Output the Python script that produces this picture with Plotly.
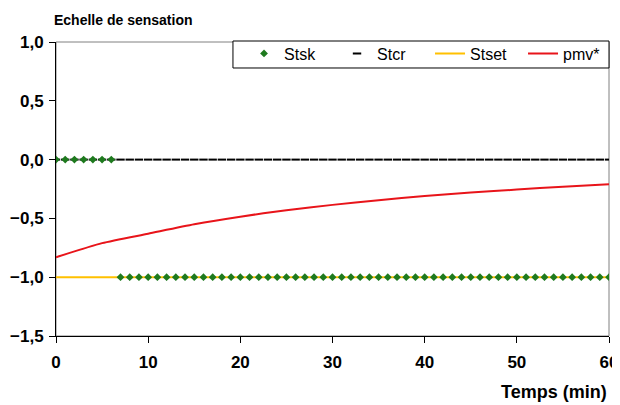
import plotly.graph_objects as go

# Data
stsk_t = list(range(0, 61))
stsk_v = [0.0] * 7 + [-1.0] * 54

stcr_t = list(range(0, 61))
stcr_v = [0.0] * 61

stset_t = [0, 60]
stset_v = [-1.0, -1.0]

pmv_t = [0, 5, 10, 15, 20, 25, 30, 35, 40, 45, 50, 55, 60]
pmv_v = [-0.83, -0.71, -0.63, -0.55, -0.485, -0.43, -0.385, -0.345, -0.31, -0.28, -0.255, -0.23, -0.21]

x_ticks = [0, 10, 20, 30, 40, 50, 60]
y_ticks = [1.0, 0.5, 0.0, -0.5, -1.0, -1.5]

FONT = "Liberation Sans, Arial, sans-serif"

fig = go.Figure()
fig.add_trace(go.Scatter(x=stset_t, y=stset_v, mode="lines", name="Stset",
                         line=dict(color="#FFC000", width=2), legendrank=3))
fig.add_trace(go.Scatter(x=stcr_t, y=stcr_v, mode="markers", name="Stcr",
                         marker=dict(symbol="line-ew", size=6, color="black",
                                     line=dict(color="black", width=2)), legendrank=2))
fig.add_trace(go.Scatter(x=stsk_t, y=stsk_v, mode="markers", name="Stsk",
                         marker=dict(symbol="diamond", size=6, color="#1E7A1E",
                                     line=dict(width=0)), legendrank=1))
fig.add_trace(go.Scatter(x=pmv_t, y=pmv_v, mode="lines", name="pmv*",
                         line=dict(color="#E8141A", width=2, shape="spline", smoothing=0.6),
                         legendrank=4))

# page body has an 8px margin: figure is sized/margined to compensate
fig.update_layout(
    width=612, height=397,
    margin=dict(l=48, r=11, t=34, b=69, autoexpand=False),
    paper_bgcolor="white", plot_bgcolor="white",
    separators=", ",
    font=dict(family=FONT, size=13, color="black"),
    showlegend=True,
    legend=dict(orientation="h", x=0.340, y=1.0187, xanchor="left", yanchor="top",
                bgcolor="rgba(0,0,0,0)", borderwidth=0,
                font=dict(family=FONT, size=16, color="black"),
                itemwidth=30, entrywidth=48, entrywidthmode="pixels",
                tracegroupgap=0, traceorder="normal"),
    xaxis=dict(range=[0, 60], tickvals=x_ticks, ticks="outside", ticklen=6,
               tickcolor="black", showline=True, linecolor="black", linewidth=1,
               showgrid=False, zeroline=False, automargin=False, ticklabelstandoff=5,
               tickfont=dict(family=FONT, size=17, color="black", weight="bold")),
    yaxis=dict(range=[-1.5, 1.0], tickvals=y_ticks, tickformat=".1f", ticks="outside",
               ticklen=6, tickcolor="black", showline=True, linecolor="black", linewidth=1,
               showgrid=False, zeroline=False, automargin=False, ticklabelstandoff=2,
               tickfont=dict(family=FONT, size=17, color="black", weight="bold")),
    shapes=[
        dict(type="rect", xref="paper", yref="paper", x0=0, y0=0, x1=1, y1=1,
             line=dict(color="#808080", width=1), layer="below"),
        dict(type="rect", xref="paper", yref="paper", x0=0.320, y0=0.9116, x1=1.0, y1=1.0034,
             line=dict(color="black", width=1), fillcolor="white", layer="above"),
    ],
    annotations=[
        dict(text="<b>Echelle de sensation</b>", xref="paper", yref="paper",
             x=-0.007, y=1.0, yshift=22, xanchor="left", yanchor="middle",
             showarrow=False, font=dict(family=FONT, size=14, color="black")),
        dict(text="<b>Temps (min)</b>", xref="paper", yref="paper",
             x=1.0, y=0, yshift=-56, xanchor="right", yanchor="middle",
             showarrow=False, font=dict(family=FONT, size=18, color="black")),
    ],
)

fig.write_html("out.html")
